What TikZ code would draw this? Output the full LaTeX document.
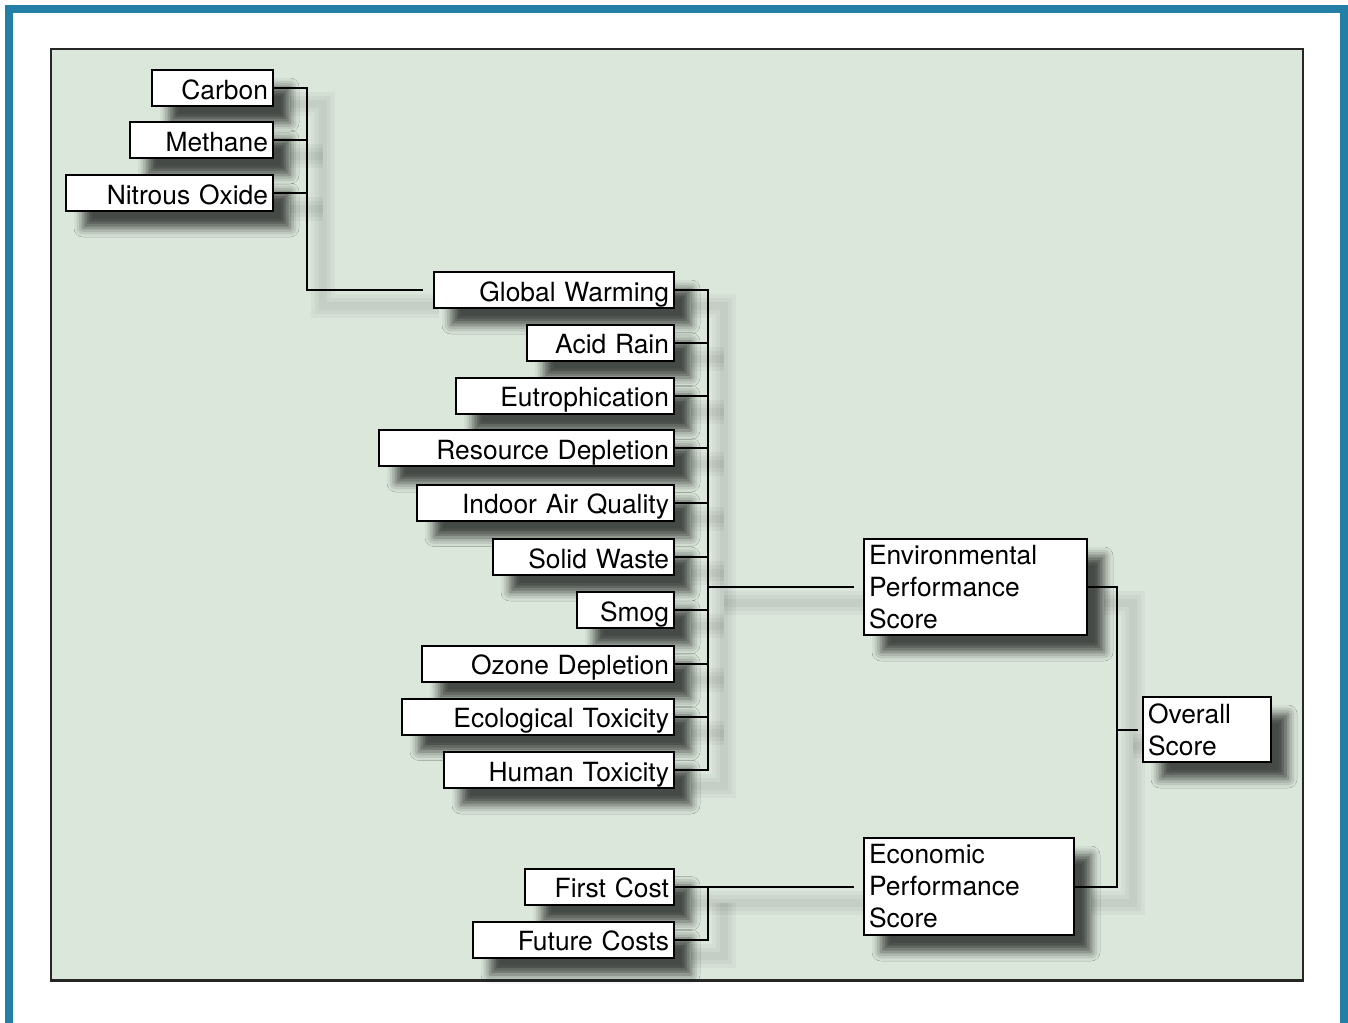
\documentclass[tikz,border=0pt]{standalone}
\usepackage{fontspec}
\setmainfont{TeX Gyre Heros}
\usetikzlibrary{calc,shadows.blur}
\pgfdeclarelayer{background}
\pgfsetlayers{background,main}
\definecolor{framebl}{RGB}{36,127,166}
\definecolor{panelgr}{RGB}{220,231,220}
\tikzset{
  box/.style={draw, fill=white, line width=1pt, inner xsep=2.5pt, inner ysep=0pt,
    font=\fontsize{13.2}{16}\selectfont,
    blur shadow={shadow xshift=8.5pt, shadow yshift=-8.5pt, shadow blur radius=4.5pt, shadow opacity=68}},
  leaf/.style={box, anchor=east, align=right, text width=#1, minimum height=18pt,
    text height=11pt, text depth=0pt},
  score/.style={box, anchor=west, align=left, text width=#1},
  wire/.style={line width=1pt},
  wireshade/.style={line width=#1, draw=black, opacity=0.035,
    transform canvas={xshift=8pt, yshift=-8pt}},
}

% connectors, drawn once as shade and once as line
\newcommand{\wiring}[1]{%
  \draw[#1] (carbon.east) -- (carbon.east -| gasbus) |- ($(warming.west)+(-10,0)$);
  \draw[#1] (methane.east) -- (methane.east -| gasbus);
  \draw[#1] (nitrous.east) -- (nitrous.east -| gasbus);
  \draw[#1] (warming.east) -| (humtox.east -| impbus) -- (humtox.east);
  \foreach \n in {acid,eutro,resource,indoor,solid,smog,ozone,ecotox}
    \draw[#1] (\n.east) -- (\n.east -| impbus);
  \draw[#1] (envscore.west -| impbus) -- ($(envscore.west)+(-9,0)$);
  \draw[#1] (firstcost.east) -- ($(econscore.west)+(-9,0)$);
  \draw[#1] (futurecost.east) -| (firstcost.east -| costbus);
  \draw[#1] (envscore.east) -| (econscore.east -| scorebus) -- (econscore.east);
  \draw[#1] (overall.west -| scorebus) -- ($(overall.west)+(-4,0)$);
}

\begin{document}
\begin{tikzpicture}[x=0.5pt, y=-0.5pt]
  \useasboundingbox (0,0) rectangle (1348,1022);
  \draw[framebl, line width=4pt] (9,9.5) rectangle (1344,1100);

  \coordinate (gasbus) at (307,0);
  \coordinate (impbus) at (708,0);
  \coordinate (costbus) at (708,0);
  \coordinate (scorebus) at (1117,0);

  % greenhouse gases
  \node[leaf=55.5pt] (carbon) at (274,88) {Carbon};
  \node[leaf=66.5pt] (methane) at (274,140) {Methane};
  \node[leaf=98.5pt] (nitrous) at (274,193) {Nitrous Oxide};

  % impact categories
  \node[leaf=115pt] (warming) at (675,290) {Global Warming};
  \node[leaf=68.5pt] (acid) at (675,342.5) {Acid Rain};
  \node[leaf=104pt] (eutro) at (675,395.5) {Eutrophication};
  \node[leaf=142.5pt] (resource) at (675,448) {Resource Depletion};
  \node[leaf=123.5pt] (indoor) at (675,502.5) {Indoor Air Quality};
  \node[leaf=85.5pt] (solid) at (675,557) {Solid Waste};
  \node[leaf=43.5pt] (smog) at (675,610) {Smog};
  \node[leaf=121pt] (ozone) at (675,663.5) {Ozone Depletion};
  \node[leaf=131pt] (ecotox) at (675,716.5) {Ecological Toxicity};
  \node[leaf=110pt] (humtox) at (675,770) {Human Toxicity};

  % costs
  \node[leaf=69.5pt] (firstcost) at (675,886.5) {First Cost};
  \node[leaf=95.5pt] (futurecost) at (675,939.5) {Future Costs};

  % scores
  \node[score=106.5pt, minimum height=48pt] (envscore) at (863,587)
    {Environmental\\Performance\\Score};
  \node[score=100pt, minimum height=48.5pt] (econscore) at (863,886.5)
    {Economic\\Performance\\Score};
  \node[score=59pt, minimum height=32.5pt] (overall) at (1142,729.5)
    {Overall\\Score};

  \begin{pgfonlayer}{background}
    \filldraw[fill=panelgr, draw=black!85, line width=1.25pt] (51,49) rectangle (1303,980.5);
    \wiring{wireshade=12pt}
    \wiring{wireshade=8pt}
    \wiring{wireshade=4pt}
  \end{pgfonlayer}

  \wiring{wire}
\end{tikzpicture}
\end{document}
